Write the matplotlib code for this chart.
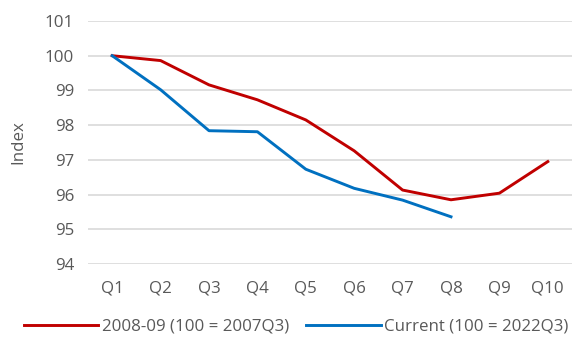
import matplotlib
matplotlib.use("Agg")
import matplotlib.pyplot as plt

quarters = ["Q1", "Q2", "Q3", "Q4", "Q5", "Q6", "Q7", "Q8", "Q9", "Q10"]
gfc_index = [100.0, 99.86, 99.16, 98.73, 98.15, 97.26, 96.13, 95.85, 96.04, 96.95]
current_index = [100.0, 99.02, 97.84, 97.81, 96.73, 96.18, 95.84, 95.36]

plt.rcParams['font.family'] = ['Open Sans', 'DejaVu Sans']
text_grey = '#595959'
fs = 12.2

fig = plt.figure(figsize=(5.75, 3.45), dpi=100)
ax = fig.add_axes([88 / 575, 1 - 264 / 345, 484 / 575, 243 / 345])

x_gfc = range(len(gfc_index))
x_cur = range(len(current_index))
ax.plot(x_gfc, gfc_index, color='#c00000', lw=2.1, label='2008-09 (100 = 2007Q3)',
        solid_joinstyle='round', zorder=3)
ax.plot(x_cur, current_index, color='#0070c0', lw=2.1, label='Current (100 = 2022Q3)',
        solid_joinstyle='round', zorder=3)

ax.set_xlim(-0.5, len(quarters) - 0.5)
ax.set_ylim(94, 101)
ax.set_xticks(range(len(quarters)))
ax.set_xticklabels(quarters)
ax.set_yticks(range(94, 102))
ax.grid(axis='y', color='#d9d9d9', lw=1.2)
ax.set_axisbelow(True)
for s in ax.spines.values():
    s.set_visible(False)
ax.tick_params(length=0, labelsize=fs, labelcolor=text_grey, pad=10)
ax.tick_params(axis='x', pad=12)
ax.set_ylabel('Index', fontsize=fs, color=text_grey, labelpad=13)

fig.legend(loc='lower center', bbox_to_anchor=(0.515, -0.015), ncol=2, frameon=False,
           fontsize=fs, labelcolor=text_grey, handlelength=4.4, handletextpad=0.2,
           columnspacing=1.0)

fig.savefig('out.png', dpi=100)
